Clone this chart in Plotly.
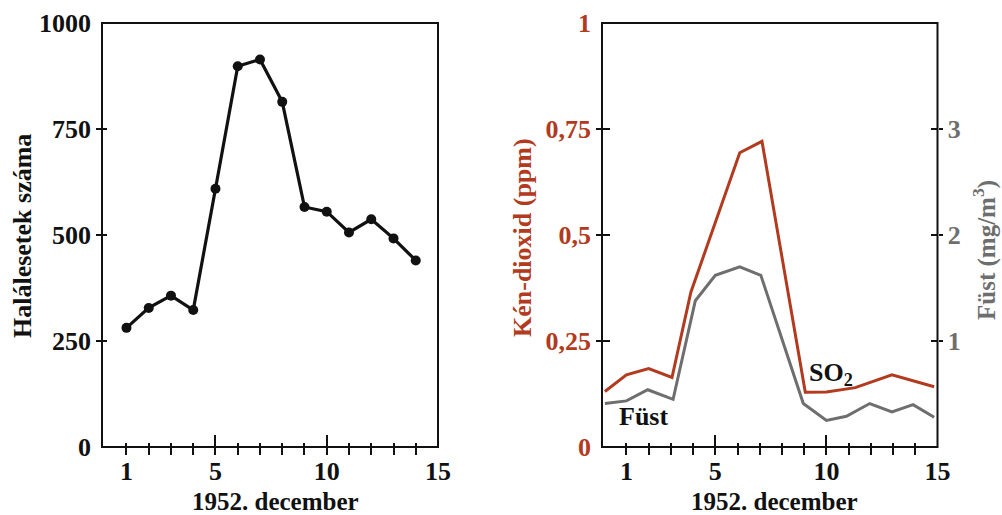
import plotly.graph_objects as go

# ---------------- data ----------------
days = list(range(1, 15))
deaths = [281, 328, 357, 323, 609, 898, 914, 814, 566, 555, 506, 537, 492, 440]

so2_days = [0.03, 1, 2, 3.05, 3.9, 6.1, 7.1, 9.05, 10, 11.3, 12.95, 14.85]
so2_ppm = [0.131, 0.170, 0.185, 0.164, 0.365, 0.694, 0.721, 0.129, 0.130, 0.140, 0.170, 0.142]

smoke_days = [0.03, 1, 1.96, 3.1, 4.1, 5.0, 6.1, 7.05, 8.96, 10.0, 10.9, 11.95, 12.95, 13.9, 14.85]
smoke_mg = [0.41, 0.435, 0.54, 0.45, 1.38, 1.62, 1.70, 1.62, 0.41, 0.25, 0.29, 0.41, 0.33, 0.40, 0.28]

x_label_vals = [1, 5, 10, 15]
x_major_vals = [5, 10]
deaths_ticks = [0, 250, 500, 750, 1000]
ppm_ticks = [0, 0.25, 0.5, 0.75, 1]
ppm_text = ["0", "0,25", "0,5", "0,75", "1"]
smoke_ticks = [1, 2, 3]

x_title = "1952. december"
deaths_title = "Halálesetek száma"
so2_title = "Kén-dioxid (ppm)"
smoke_title = "Füst (mg/m<sup>3</sup>)"

# ---------------- style ----------------
FONT = "Liberation Serif, Times New Roman, serif"
FS = 26
BLACK = "#111111"
RED = "#b23a1e"
GRAY = "#6e6e6e"
XR = [-0.1, 15]
DOM_L = [102 / 1002, 438 / 1002]
DOM_R = [602 / 1002, 937.5 / 1002]
YDOM = [68 / 515, 492 / 515]

fig = go.Figure()

fig.add_trace(go.Scatter(
    x=days, y=deaths, mode="lines+markers", xaxis="x", yaxis="y",
    line=dict(color=BLACK, width=3.2), marker=dict(color=BLACK, size=10),
    showlegend=False, hoverinfo="x+y"))

fig.add_trace(go.Scatter(
    x=so2_days, y=so2_ppm, mode="lines", xaxis="x2", yaxis="y2",
    line=dict(color=RED, width=3), showlegend=False))

fig.add_trace(go.Scatter(
    x=smoke_days, y=smoke_mg, mode="lines", xaxis="x2", yaxis="y4",
    line=dict(color=GRAY, width=3), showlegend=False))

# empty helper traces so that the overlay (tick / label) axes get drawn
for xa, ya in [("x3", "y"), ("x5", "y"), ("x7", "y"), ("x", "y3"), ("x", "y5"),
               ("x4", "y2"), ("x6", "y2"), ("x8", "y2"), ("x2", "y6"), ("x2", "y7"),
               ("x2", "y8")]:
    fig.add_trace(go.Scatter(x=[], y=[], xaxis=xa, yaxis=ya, mode="lines",
                             showlegend=False, hoverinfo="skip"))


def xbase(domain, anchor, **kw):
    d = dict(domain=domain, anchor=anchor, range=XR, showgrid=False, automargin=False,
             zeroline=False, tickcolor=BLACK, tickwidth=2, fixedrange=True, showline=False)
    d.update(kw)
    return d


def ybase(anchor, rng, **kw):
    d = dict(domain=YDOM, anchor=anchor, range=rng, showgrid=False, automargin=False,
             zeroline=False, tickcolor=BLACK, tickwidth=2, fixedrange=True, showline=False)
    d.update(kw)
    return d


def bfont(color=BLACK, size=FS):
    return dict(family=FONT, size=size, color=color, weight="bold")


def title_ann(text, x, y, color=BLACK, angle=0, size=FS):
    return dict(text=text, x=x, y=y, xref="paper", yref="paper", xanchor="center",
                yanchor="middle", showarrow=False, textangle=angle, font=bfont(color, size))


layout = dict(
    width=1002, height=515,
    margin=dict(l=0, r=0, t=0, b=0),
    paper_bgcolor="white", plot_bgcolor="white",
    font=bfont(),
    showlegend=False,
    # ----- left chart -----
    xaxis=xbase(DOM_L, "y", ticks="outside", ticklen=7, tickvals=days, showticklabels=False),
    xaxis3=xbase(DOM_L, "y", overlaying="x", ticks="inside", ticklen=4,
                 tickvals=days, showticklabels=False),
    xaxis5=xbase(DOM_L, "y", overlaying="x", ticks="inside", ticklen=12,
                 tickvals=x_major_vals, showticklabels=False),
    xaxis7=xbase(DOM_L, "y", overlaying="x", ticks="", tickvals=x_label_vals,
                 ticktext=[str(v) for v in x_label_vals],
                 ticklabelstandoff=6, tickfont=bfont()),
    yaxis=ybase("x", [0, 1000], ticks="outside", ticklen=5, tickvals=[250, 500, 750],
                showticklabels=False),
    yaxis3=ybase("x", [0, 1000], overlaying="y", ticks="inside", ticklen=5,
                 tickvals=[250, 500, 750], showticklabels=False),
    yaxis5=ybase("x", [0, 1000], overlaying="y", ticks="", tickvals=deaths_ticks,
                 ticktext=[str(v) for v in deaths_ticks],
                 ticklabelstandoff=10, tickfont=bfont()),
    # ----- right chart -----
    xaxis2=xbase(DOM_R, "y2", ticks="outside", ticklen=7, tickvals=days, showticklabels=False),
    xaxis4=xbase(DOM_R, "y2", overlaying="x2", ticks="inside", ticklen=4,
                 tickvals=days, showticklabels=False),
    xaxis6=xbase(DOM_R, "y2", overlaying="x2", ticks="inside", ticklen=12,
                 tickvals=x_major_vals, showticklabels=False),
    xaxis8=xbase(DOM_R, "y2", overlaying="x2", ticks="", tickvals=x_label_vals,
                 ticktext=[str(v) for v in x_label_vals],
                 ticklabelstandoff=6, tickfont=bfont()),
    yaxis2=ybase("x2", [0, 1], ticks="outside", ticklen=5, tickvals=[0.25, 0.5, 0.75],
                 showticklabels=False),
    yaxis6=ybase("x2", [0, 1], overlaying="y2", ticks="inside", ticklen=8,
                 tickvals=[0.25, 0.5, 0.75], showticklabels=False),
    yaxis7=ybase("x2", [0, 1], overlaying="y2", ticks="", tickvals=ppm_ticks,
                 ticktext=ppm_text, ticklabelstandoff=10, tickfont=bfont(RED)),
    yaxis4=ybase("x2", [0, 4], overlaying="y2", side="right", ticks="outside", ticklen=4,
                 tickvals=smoke_ticks, ticktext=[str(v) for v in smoke_ticks],
                 ticklabelstandoff=0, tickfont=bfont(GRAY)),
    yaxis8=ybase("x2", [0, 4], overlaying="y2", side="right", ticks="inside", ticklen=7,
                 tickvals=smoke_ticks, showticklabels=False),
    shapes=[
        dict(type="rect", xref="x domain", yref="y domain", x0=0, x1=1, y0=0, y1=1,
             line=dict(color=BLACK, width=2), layer="above"),
        dict(type="rect", xref="x2 domain", yref="y2 domain", x0=0, x1=1, y0=0, y1=1,
             line=dict(color=BLACK, width=2), layer="above"),
    ],
    annotations=[
        dict(text="SO<sub>2</sub>", x=10.2, y=0.172, xref="x2", yref="y2",
             showarrow=False, font=bfont()),
        dict(text="Füst", x=1.77, y=0.073, xref="x2", yref="y2",
             showarrow=False, font=bfont()),
        title_ann(x_title, 275 / 1002, 14 / 515, size=25),
        title_ann(x_title, 774 / 1002, 14 / 515, size=25),
        title_ann(deaths_title, 22 / 1002, (515 - 236) / 515, angle=-90),
        title_ann(so2_title, 523 / 1002, (515 - 238) / 515, color=RED, angle=-90),
        title_ann(smoke_title, 984 / 1002, (515 - 250) / 515, color=GRAY, angle=-90, size=25),
    ],
)

fig.update_layout(**layout)
fig.write_html("out.html", config={"displayModeBar": False},
               post_script="document.body.style.margin='0';document.body.style.overflow='hidden';")
